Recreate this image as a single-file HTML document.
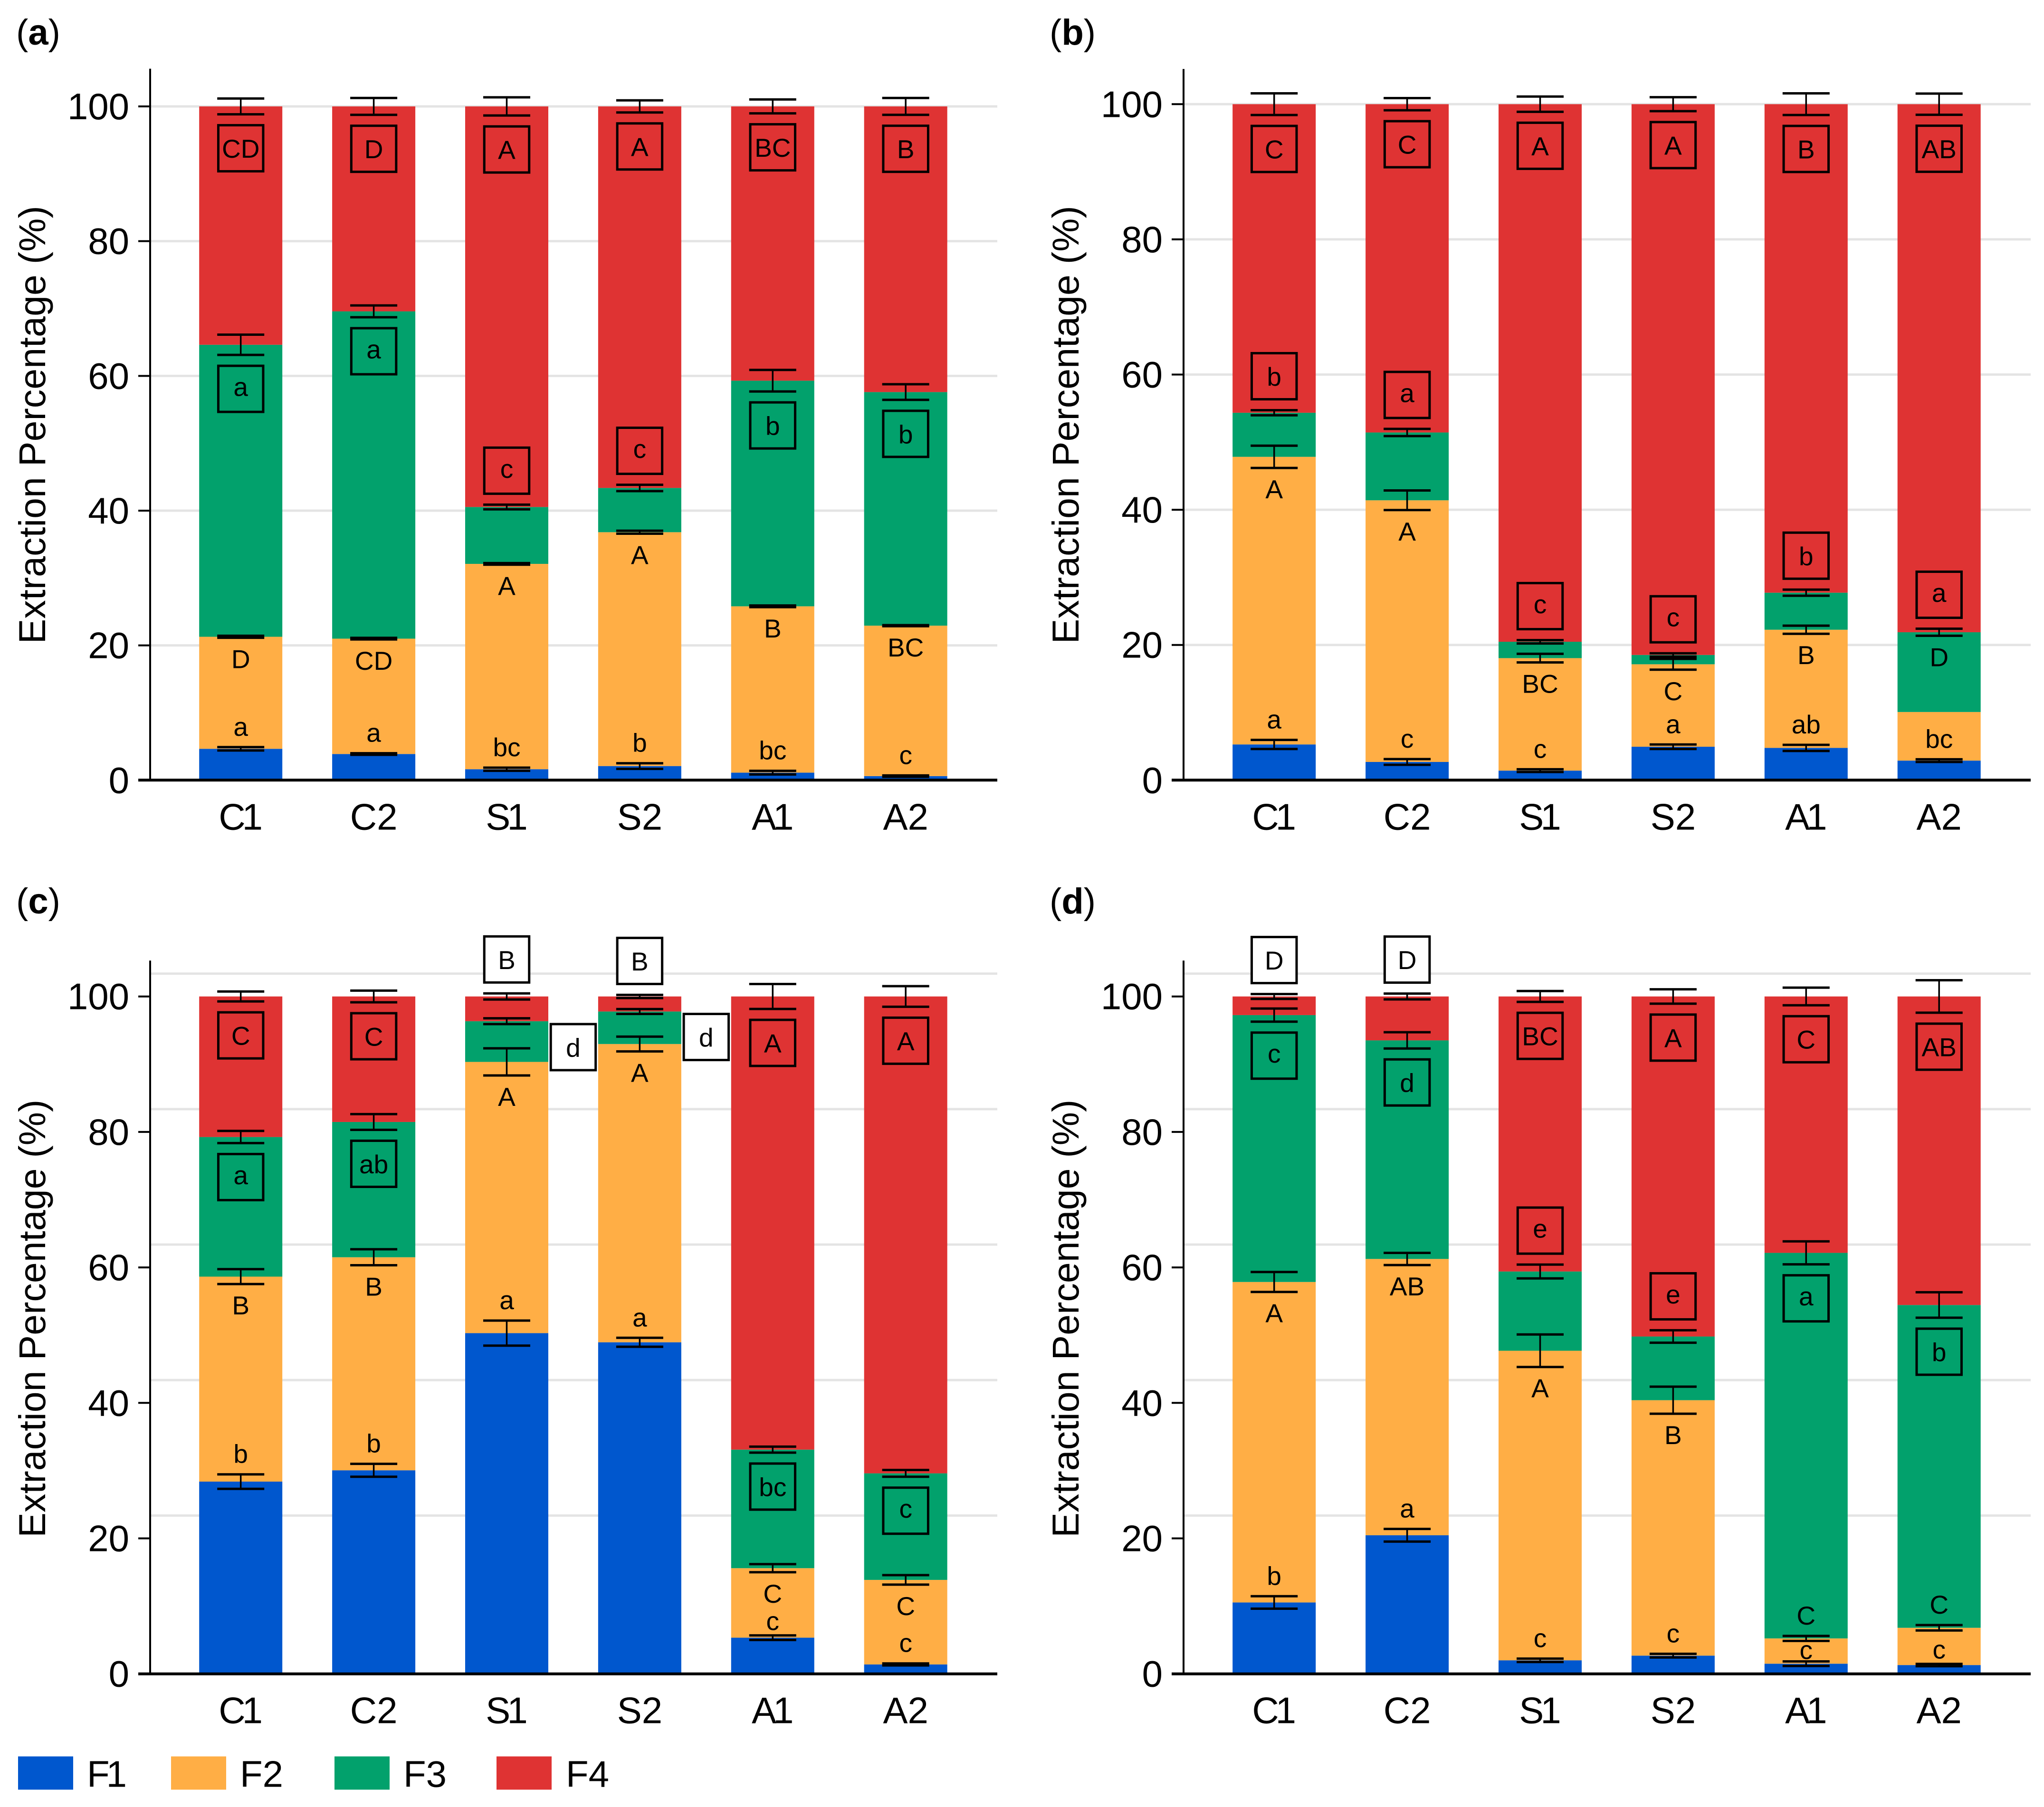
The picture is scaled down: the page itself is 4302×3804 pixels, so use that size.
<!DOCTYPE html>
<html lang="en">
<head>
<meta charset="utf-8">
<title>Extraction percentage of fractions F1–F4 across treatments</title>
<style>
html,body{margin:0;padding:0;background:#fff;}
svg{display:block;font-family:"Liberation Sans",Arial,sans-serif;}
</style>
</head>
<body>
<svg id="figure" xmlns="http://www.w3.org/2000/svg" width="4302" height="3804" viewBox="0 0 4302 3804">
<rect x="0" y="0" width="4302" height="3804" fill="#ffffff"/>
</svg>
<script>
const categories = ['C1','C2','S1','S2','A1','A2'];
const seriesNames = ['F1','F2','F3','F4'];
const seriesColors = ['#0057CE','#FFAE45','#02A16C','#DF3333'];
const yTicks = [0,20,40,60,80,100];
const gridTicks = [20,40,60,80,100];

/* Panel a */
const aF1 = [4.65,3.88,1.62,2.09,1.11,0.6];
const aF2 = [16.63,17.12,30.48,34.71,24.69,22.33];
const aF3 = [43.34,48.58,8.44,6.57,33.49,34.67];
const aF4 = [35.38,30.42,59.46,56.63,40.71,42.4];
const aE1 = [0.25,0.12,0.23,0.42,0.27,0.1];
const aE2 = [0.15,0.12,0.12,0.22,0.12,0.08];
const aE3 = [1.5,0.88,0.35,0.47,1.6,1.16];
const aE4 = [1.17,1.25,1.35,0.9,1.03,1.25];
const aL1 = ['a','a','bc','b','bc','c'];
const aL2 = ['D','CD','A','A','B','BC'];
const aL3 = ['a','a','c','c','b','b'];
const aL4 = ['CD','D','A','A','BC','B'];
const aP1 = ['above','above','above','above','above','above'];
const aP2 = ['below','below','below','below','below','below'];
const aP3 = ['below','below','above','above','below','below'];
const aP4 = ['below','below','below','below','below','below'];

/* Panel b */
const bF1 = [5.28,2.69,1.41,4.94,4.77,2.89];
const bF2 = [42.55,38.71,16.64,12.2,17.48,7.19];
const bF3 = [6.52,10.03,2.42,1.38,5.48,11.8];
const bF4 = [45.65,48.57,79.53,81.48,72.27,78.12];
const bE1 = [0.67,0.42,0.2,0.33,0.45,0.2];
const bE2 = [1.65,1.45,0.64,0.8,0.6,0];
const bE3 = [0.38,0.53,0.25,0.25,0.45,0.52];
const bE4 = [1.6,0.9,1.13,1.03,1.6,1.57];
const bL1 = ['a','c','c','a','ab','bc'];
const bL2 = ['A','A','BC','C','B','D'];
const bL3 = ['b','a','c','c','b','a'];
const bL4 = ['C','C','A','A','B','AB'];
const bP1 = ['above','above','above','above','above','above'];
const bP2 = ['below','below','below','below','below','under-f3'];
const bP3 = ['above','above','above','above','above','above'];
const bP4 = ['below','below','below','below','below','below'];

/* Panel c */
const cF1 = [28.38,30.05,50.3,48.95,5.34,1.39];
const cF2 = [30.26,31.45,40.04,44.03,10.26,12.48];
const cF3 = [20.61,19.97,6.01,4.8,17.5,15.73];
const cF4 = [20.75,18.53,3.65,2.22,66.9,70.4];
const cE1 = [1.07,0.95,1.85,0.66,0.34,0.15];
const cE2 = [1.1,1.18,2.0,1.09,0.6,0.7];
const cE3 = [0.9,1.16,0.43,0.36,0.44,0.5];
const cE4 = [0.73,0.86,0.45,0.23,1.84,1.52];
const cL1 = ['b','b','a','a','c','c'];
const cL2 = ['B','B','A','A','C','C'];
const cL3 = ['a','ab','d','d','bc','c'];
const cL4 = ['C','C','B','B','A','A'];
const cP1 = ['above','above','above','above','tight','above'];
const cP2 = ['below','below','below','below','below','below'];
const cP3 = ['below','below','side','side','below','below'];
const cP4 = ['below','below','above','above','below','below'];

/* Panel d */
const dF1 = [10.54,20.46,2.0,2.69,1.5,1.3];
const dF2 = [47.31,40.79,45.7,37.71,3.73,5.5];
const dF3 = [39.4,32.27,11.7,9.4,56.92,47.65];
const dF4 = [2.75,6.48,40.6,50.2,37.85,45.55];
const dE1 = [0.92,0.93,0.25,0.27,0.34,0.17];
const dE2 = [1.47,0.9,2.4,2.0,0.37,0.4];
const dE3 = [0.97,1.2,1.02,0.92,1.7,1.88];
const dE4 = [0.36,0.43,0.8,1.06,1.3,2.4];
const dL1 = ['b','a','c','c','c','c'];
const dL2 = ['A','AB','A','B','C','C'];
const dL3 = ['c','d','e','e','a','b'];
const dL4 = ['D','D','BC','A','C','AB'];
const dP1 = ['above','above','above','above','tighter','tight'];
const dP2 = ['below','below','below','below','above','above'];
const dP3 = ['below','below','above','above','below','below'];
const dP4 = ['above','above','below','below','below','below'];

const panels = [
  {id:'a',left:0,y0:1642.3,k:14.183,gridShift:0,axisTop:105.6,titleY:94,
   f:[aF1,aF2,aF3,aF4],e:[aE1,aE2,aE3,aE4],l:[aL1,aL2,aL3,aL4],p:[aP1,aP2,aP3,aP4]},
  {id:'b',left:2175,y0:1642.3,k:14.23,gridShift:0,axisTop:105.2,titleY:94,
   f:[bF1,bF2,bF3,bF4],e:[bE1,bE2,bE3,bE4],l:[bL1,bL2,bL3,bL4],p:[bP1,bP2,bP3,bP4]},
  {id:'c',left:0,y0:3523.7,k:14.26,gridShift:3.37,axisTop:105.3,titleY:1923,
   f:[cF1,cF2,cF3,cF4],e:[cE1,cE2,cE3,cE4],l:[cL1,cL2,cL3,cL4],p:[cP1,cP2,cP3,cP4]},
  {id:'d',left:2175,y0:3523.7,k:14.26,gridShift:3.37,axisTop:105.3,titleY:1923,
   f:[dF1,dF2,dF3,dF4],e:[dE1,dE2,dE3,dE4],l:[dL1,dL2,dL3,dL4],p:[dP1,dP2,dP3,dP4]}
];

const NS = 'http://www.w3.org/2000/svg';
const root = document.getElementById('figure');
function shape(parent, tag, attrs, content) {
  const el = document.createElementNS(NS, tag);
  for (const key in attrs) el.setAttribute(key, attrs[key]);
  if (content !== undefined) el.textContent = content;
  parent.appendChild(el);
  return el;
}
/* The reference typeface has a narrow "1": pull it toward the preceding letter. */
function fillLabel(el, label, pull) {
  if (label.endsWith('1')) {
    el.textContent = label.slice(0, -1);
    shape(el, 'tspan', {dx: pull}, '1');
  } else {
    el.textContent = label;
  }
}

const BAR_W = 175, BAR_STEP = 279.9, FIRST_BAR = 506.7;
const AXIS_X = 316, AXIS_END = 2099, TICK_L = 25;
const CAP_W = 99, BOX_W = 94.5, BOX_H = 97, GAP = 23;
const SMALL = 55, LARGE = 78;

function drawPanel(pn) {
  const g = shape(root, 'g', {});
  
  
  const yScale = v => pn.y0 - pn.k * v;
  const xScale = i => pn.left + FIRST_BAR + BAR_STEP * i;
  const axisX = pn.left + AXIS_X;
  const axisEnd = pn.left + AXIS_END;

  gridTicks.forEach(t => {
    const gy = yScale(t + pn.gridShift);
    const el = shape(g, 'line', {x1: axisX, x2: axisEnd, y1: gy, y2: gy, stroke: '#e4e4e4', 'stroke-width': 5});
    
    
  });

  /* stacked bars */
  const tops = [];
  categories.forEach((cat, i) => {
    let base = 0;
    const barTops = [];
    pn.f.forEach((series, s) => {
      const v = series[i];
      const yTop = yScale(base + v);
      const yBot = yScale(base);
      const el = shape(g, 'rect', {x: xScale(i) - BAR_W / 2, y: yTop, width: BAR_W, height: yBot - yTop, fill: seriesColors[s]});
      
      
      base += v;
      barTops.push(base);
    });
    tops.push(barTops);
  });

  /* axes */
  const yAxis = shape(g, 'line', {x1: axisX, x2: axisX, y1: yScale(pn.axisTop), y2: pn.y0, stroke: '#000', 'stroke-width': 4});
  
  
  const xAxis = shape(g, 'line', {x1: axisX - TICK_L, x2: axisEnd, y1: pn.y0, y2: pn.y0, stroke: '#000', 'stroke-width': 6});
  
  

  yTicks.forEach(t => {
    const ty = yScale(t);
    const tick = shape(g, 'line', {x1: axisX - TICK_L, x2: axisX, y1: ty, y2: ty, stroke: '#000', 'stroke-width': 4});
    
    
    const lab = shape(g, 'text', {x: axisX - 44, y: ty + 27, 'text-anchor': 'end', 'font-size': LARGE, fill: '#000'}, String(t));
    
    
  });

  categories.forEach((cat, i) => {
    const lab = shape(g, 'text', {x: xScale(i), y: pn.y0 + 104, 'text-anchor': 'middle', 'font-size': LARGE, fill: '#000'});
    fillLabel(lab, cat, -7);
    
    
  });

  const yTitle = shape(g, 'text', {
    transform: 'translate(' + (pn.left + 95) + ',' + (pn.y0 - 748) + ') rotate(-90)',
    'text-anchor': 'middle', 'font-size': 79, fill: '#000'
  }, 'Extraction Percentage (%)');
  
  

  const title = shape(g, 'text', {x: pn.left + 34, y: pn.titleY, 'font-size': 76, fill: '#000'});
  
  
  shape(title, 'tspan', {}, '(');
  shape(title, 'tspan', {'font-weight': 'bold'}, pn.id);
  shape(title, 'tspan', {}, ')');

  /* error bars */
  categories.forEach((cat, i) => {
    seriesNames.forEach((sn, s) => {
      const err = pn.e[s][i];
      if (!err) return;
      const yUp = yScale(tops[i][s] + err);
      const yLo = yScale(tops[i][s] - err);
      const cx = xScale(i);
      const eg = shape(g, 'g', {stroke: '#000'});
      
      
      shape(eg, 'line', {x1: cx, x2: cx, y1: yUp, y2: yLo, 'stroke-width': 3.5});
      shape(eg, 'line', {x1: cx - CAP_W / 2, x2: cx + CAP_W / 2, y1: yUp, y2: yUp, 'stroke-width': 5});
      shape(eg, 'line', {x1: cx - CAP_W / 2, x2: cx + CAP_W / 2, y1: yLo, y2: yLo, 'stroke-width': 5});
    });
  });

  /* plain letters for F1 and F2 */
  const plainGap = {above: 24, tight: 11, tighter: 5};
  categories.forEach((cat, i) => {
    const cx = xScale(i);
    const f1Cap = yScale(tops[i][0] + pn.e[0][i]);
    const f1 = shape(g, 'text', {x: cx, y: f1Cap - plainGap[pn.p[0][i]], 'text-anchor': 'middle', 'font-size': SMALL, fill: '#000'}, pn.l[0][i]);
    
    

    const mode = pn.p[1][i];
    let by;
    if (mode === 'below') by = yScale(tops[i][1] - pn.e[1][i]) + 64;
    else if (mode === 'above') by = yScale(tops[i][1] + pn.e[1][i]) - 24;
    else by = yScale(tops[i][2] - pn.e[2][i]) + 64;
    const f2 = shape(g, 'text', {x: cx, y: by, 'text-anchor': 'middle', 'font-size': SMALL, fill: '#000'}, pn.l[1][i]);
    
    
  });

  /* boxed letters for F3 and F4 */
  categories.forEach((cat, i) => {
    [2, 3].forEach(s => {
      const mode = pn.p[s][i];
      const text = pn.l[s][i];
      const up = yScale(tops[i][s] + pn.e[s][i]);
      const lo = yScale(tops[i][s] - pn.e[s][i]);
      let cx = xScale(i), boxY, fill = 'none';
      if (mode === 'below') { boxY = lo + GAP; }
      else if (mode === 'above') { boxY = up - GAP - BOX_H; if (s === 3) fill = '#ffffff'; }
      else { cx += BAR_STEP / 2; boxY = lo; fill = '#ffffff'; }
      const box = shape(g, 'rect', {x: cx - BOX_W / 2, y: boxY, width: BOX_W, height: BOX_H, fill: fill, stroke: '#000', 'stroke-width': 5});
      
      
      const lift = /[A-Zbd]/.test(text) ? 20 : 15;
      const letter = shape(g, 'text', {x: cx, y: boxY + BOX_H / 2 + lift, 'text-anchor': 'middle', 'font-size': SMALL, fill: '#000'}, text);
      
      
    });
  });
}

panels.forEach(drawPanel);

/* legend */
const legendSwatchX = [38, 360, 704, 1045];
const legendTextX = [183, 505, 849, 1191];
const legend = shape(root, 'g', {});


seriesNames.forEach((name, i) => {
  const sw = shape(legend, 'rect', {x: legendSwatchX[i], y: 3697.5, width: 116, height: 70, fill: seriesColors[i]});
  
  
  const tx = shape(legend, 'text', {x: legendTextX[i], y: 3761.5, 'font-size': LARGE, fill: '#000'});
  fillLabel(tx, name, -7);
  
  
});
</script>
</body>
</html>
